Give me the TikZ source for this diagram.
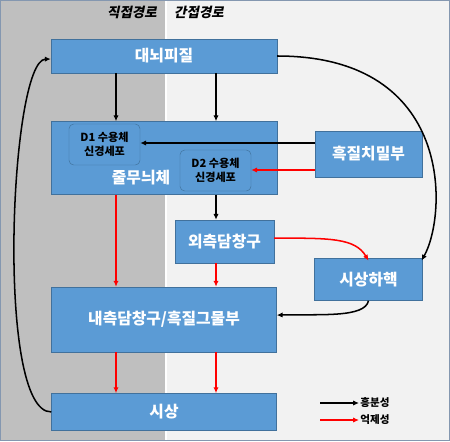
\documentclass[tikz,border=0pt]{standalone}
\usepackage{fontspec}
\setmainfont{Noto Sans CJK KR}
\newfontfamily\hdfont{Noto Sans CJK KR}[FakeSlant=0.2]
\usetikzlibrary{positioning,calc,arrows.meta}
\definecolor{boxblue}{HTML}{5B9BD5}
\definecolor{boxline}{HTML}{41719C}
\definecolor{panelgray}{HTML}{BFBFBF}
\definecolor{panellight}{HTML}{F2F2F2}
\definecolor{frameblue}{HTML}{8497B0}
\definecolor{inhred}{HTML}{FF0000}
\tikzset{
  box/.style 2 args={draw=boxline, fill=boxblue, text=white, inner sep=0pt,
    font=\bfseries\fontsize{13.5}{15}\selectfont,
    minimum width=#1*0.03cm, minimum height=#2*0.03cm},
  sub/.style={draw=boxline, fill=boxblue, text=black, rounded corners=4pt,
    inner sep=0pt, align=center, minimum width=2.13cm, minimum height=1.23cm,
    font=\bfseries\fontsize{9.5}{11.5}\selectfont},
  exc/.style={-{Latex[length=5pt,width=4.5pt]}, line width=1.3pt, black},
  inh/.style={-{Latex[length=5pt,width=4.5pt]}, line width=1.3pt, inhred},
  hd/.style={font=\hdfont\bfseries\fontsize{11.5}{13}\selectfont, inner sep=0pt},
}

\begin{document}
\begin{tikzpicture}[x=0.03cm, y=-0.03cm]
   \useasboundingbox (0,0) rectangle (450,441);
   % background panels
   \fill[panellight] (0,0) rectangle (450,441);
   \fill[panelgray] (0,0) rectangle (165,441);
   \draw[white, line width=1pt] (166,0) -- (166,441);
   \draw[frameblue, line width=1.2pt] (0.5,0.5) rectangle (449.5,440.5);

   \node[hd, anchor=east] (hdir) at (157,12) {직접경로};
   \node[hd, anchor=west] (hind) at (174,12) {간접경로};

   % boxes
   \node[box={226}{34}] (ctx) at (164,56) {대뇌피질};
   \node[box={226}{73}, below=1.44cm of ctx] (str) {};
   \node[sub] (d1) at (104.5,144.5) {D1 수용체\\신경세포};
   \node[sub] (d2) at (215.5,170.5) {D2 수용체\\신경세포};
   \node[text=white, font=\bfseries\fontsize{13.5}{15}\selectfont] (strlbl) at (141,178) {줄무늬체};
   \node[box={107}{46}] (snc) at (368.5,154) {흑질치밀부};
   \node[box={99}{43}] (gpe) at (224.5,241.5) {외측담창구};
   \node[box={108}{42}, below=2.43cm of snc] (stn) {시상하핵};
   \node[box={225}{65}, below=2.76cm of str] (gpi) {내측담창구/흑질그물부};
   \node[box={225}{37}, below=1.23cm of gpi] (thal) {시상};

   \coordinate (snc1) at ([yshift=0.33cm]snc.west);
   \coordinate (snc2) at ([yshift=-0.48cm]snc.west);

   % straight connectors
   \draw[exc] ([xshift=-1.44cm]ctx.south) -- ([xshift=-1.44cm]str.north);
   \draw[exc] ([xshift=1.56cm]ctx.south) -- ([xshift=1.56cm]str.north);
   \draw[exc] (snc1) -- (d1.east |- snc1);
   \draw[inh] (snc2) -- (d2.east |- snc2);
   \draw[exc] ([xshift=1.56cm]str.south) -- ([xshift=1.56cm]str.south |- gpe.north);
   \draw[inh] ([xshift=-1.44cm]str.south) -- ([xshift=-1.44cm]str.south |- gpi.north);
   \draw[inh] ([xshift=1.56cm]str.south |- gpe.south) -- ([xshift=1.56cm]str.south |- gpi.north);
   \draw[inh] ([xshift=-1.44cm]gpi.south) -- ([xshift=-1.44cm]thal.north);
   \draw[inh] ([xshift=1.56cm]gpi.south) -- ([xshift=1.56cm]thal.north);

   % curved connectors
   \draw[exc] (ctx.east) .. controls (455,56) and (447,215) .. ([xshift=-1pt,yshift=-2pt]stn.north east);
   \draw[inh] ([yshift=0.1cm]gpe.east) .. controls (330,238) and (355,238) .. ([yshift=-2pt]stn.north);
   \draw[exc] (stn.south) .. controls (365,318) and (320,314) .. ([yshift=0.13cm]gpi.east);
   \draw[exc] (thal.west) .. controls (-5,413) and (10,60) .. ([yshift=-0.09cm]ctx.west);

   % legend
   \coordinate (lge) at (320,403);
   \coordinate (lgi) at (320,420);
   \node[anchor=west, inner sep=1pt, font=\bfseries\fontsize{9}{10}\selectfont] (lget) at (359,403) {흥분성};
   \node[anchor=west, inner sep=1pt, font=\bfseries\fontsize{9}{10}\selectfont] (lgit) at (359,420) {억제성};
   \draw[exc, line width=1pt] (lge) -- (lget.west);
   \draw[inh, line width=1pt] (lgi) -- (lgit.west);
\end{tikzpicture}
\end{document}
